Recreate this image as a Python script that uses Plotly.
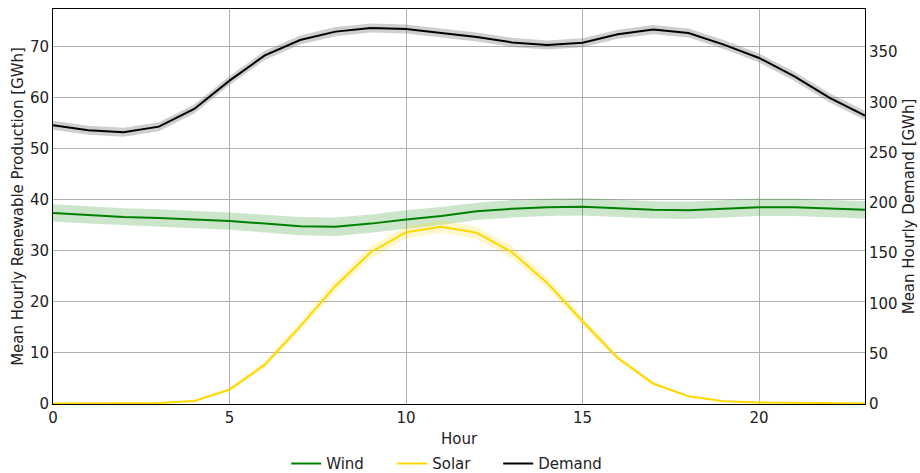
import plotly.graph_objects as go

hours = list(range(24))
wind = [37.4, 37.0, 36.6, 36.4, 36.1, 35.8, 35.3, 34.8, 34.7, 35.3, 36.1, 36.8,
        37.7, 38.2, 38.5, 38.6, 38.3, 38.0, 37.9, 38.2, 38.5, 38.5, 38.3, 38.0]
wind_std = [1.7, 1.7, 1.7, 1.7, 1.7, 1.7, 1.75, 1.8, 1.8, 1.8, 1.8, 1.75,
            1.7, 1.7, 1.7, 1.7, 1.7, 1.7, 1.7, 1.7, 1.7, 1.7, 1.7, 1.7]
solar = [0.1, 0.1, 0.1, 0.2, 0.6, 2.8, 7.7, 15.2, 23.1, 29.7, 33.6, 34.7,
         33.5, 29.7, 23.7, 16.2, 9.0, 4.0, 1.5, 0.55, 0.3, 0.2, 0.1, 0.1]
solar_std = [0.05, 0.05, 0.05, 0.1, 0.2, 0.4, 0.6, 0.9, 1.1, 1.2, 1.2, 1.2,
             1.2, 1.2, 1.1, 0.9, 0.6, 0.4, 0.2, 0.1, 0.1, 0.05, 0.05, 0.05]
demand = [277.1, 272.2, 270.2, 275.8, 293.4, 321.6, 346.7, 362.0, 370.3, 374.0, 373.0, 369.0,
          365.0, 359.6, 357.0, 359.3, 367.6, 372.3, 369.0, 357.4, 344.1, 325.8, 304.4, 286.8]
demand_std = [4.5] * 24

x_ticks = [0, 5, 10, 15, 20]
left_range = [0, 77.3]
right_range = [0, 392.8]

FONT = "DejaVu Sans"
FS = 15
fig = go.Figure()


def band(x, mean, std, color, yaxis):
    upper = [m + s for m, s in zip(mean, std)]
    lower = [m - s for m, s in zip(mean, std)]
    return go.Scatter(x=list(x) + list(x)[::-1], y=upper + lower[::-1], fill="toself",
                      fillcolor=color, line=dict(width=0), mode="lines",
                      showlegend=False, hoverinfo="skip", yaxis=yaxis)


fig.add_trace(band(hours, wind, wind_std, "rgba(0,128,0,0.2)", "y"))
fig.add_trace(go.Scatter(x=hours, y=wind, mode="lines", name="Wind",
                         line=dict(color="green", width=2), yaxis="y"))
fig.add_trace(band(hours, solar, solar_std, "rgba(255,215,0,0.2)", "y"))
fig.add_trace(go.Scatter(x=hours, y=solar, mode="lines", name="Solar",
                         line=dict(color="gold", width=2), yaxis="y"))
fig.add_trace(band(hours, demand, demand_std, "rgba(128,128,128,0.38)", "y2"))
fig.add_trace(go.Scatter(x=hours, y=demand, mode="lines", name="Demand",
                         line=dict(color="black", width=2), yaxis="y2"))

title_font = dict(family=FONT, size=FS, color="#222")
fig.update_layout(
    width=920, height=473,
    margin=dict(l=53, r=55, t=9, b=68.5, autoexpand=False),
    paper_bgcolor="white", plot_bgcolor="white",
    font=dict(family=FONT, size=FS, color="#222"),
    xaxis=dict(range=[0, 23], tickvals=x_ticks, showgrid=True, gridcolor="#b0b0b0",
               gridwidth=1, showline=True, linecolor="black", linewidth=1, mirror=True,
               ticks="", ticklabelstandoff=0, zeroline=False,
               title=dict(text="Hour", standoff=7, font=title_font), automargin=False),
    yaxis=dict(range=left_range, tickvals=[0, 10, 20, 30, 40, 50, 60, 70], showgrid=True,
               gridcolor="#b0b0b0", gridwidth=1, showline=True, linecolor="black",
               linewidth=1, ticks="", ticklabelstandoff=0, zeroline=False,
               title=dict(text="Mean Hourly Renewable Production [GWh]", standoff=2,
                          font=title_font),
               automargin=False),
    yaxis2=dict(range=right_range, tickvals=[0, 50, 100, 150, 200, 250, 300, 350],
                overlaying="y", side="right", showgrid=False, showline=True,
                linecolor="black", linewidth=1, ticks="", ticklabelstandoff=0,
                zeroline=False,
                title=dict(text="Mean Hourly Demand [GWh]", standoff=6, font=title_font),
                automargin=False),
    legend=dict(orientation="h", x=0.483, xanchor="center", y=-0.151, yanchor="middle",
                font=dict(family=FONT, size=FS, color="#222"), bgcolor="rgba(0,0,0,0)",
                entrywidth=61, entrywidthmode="pixels"),
    showlegend=True,
)

fig.write_html("out.html", config={"displayModeBar": False},
               post_script="document.body.style.margin='0';document.body.style.padding='0';")
